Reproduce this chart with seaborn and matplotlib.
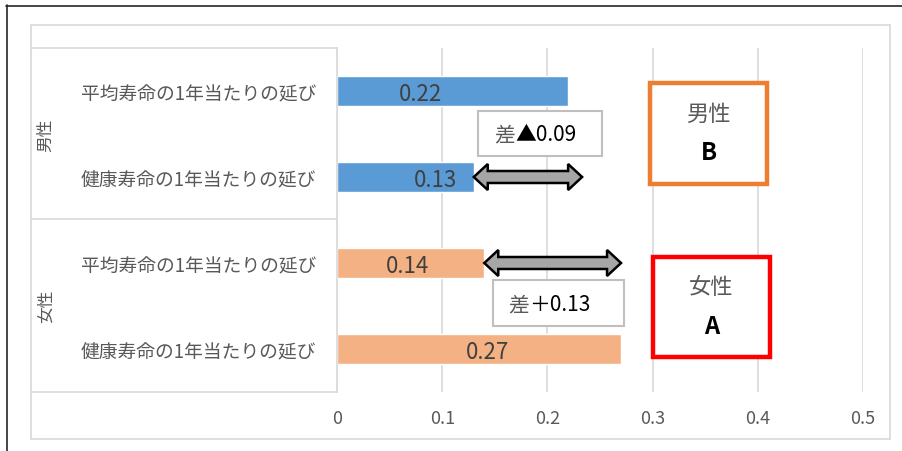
import matplotlib
matplotlib.use("Agg")
import matplotlib.pyplot as plt
import pandas as pd
import seaborn as sns
from matplotlib.patches import Rectangle, Polygon
from matplotlib.lines import Line2D
from matplotlib.transforms import Affine2D

# ---- data ----
sexes = ["男性", "男性", "女性", "女性"]
items = ["平均寿命の1年当たりの延び", "健康寿命の1年当たりの延び",
         "平均寿命の1年当たりの延び", "健康寿命の1年当たりの延び"]
values = [0.22, 0.13, 0.14, 0.27]
groups = ["男性", "女性"]
grades = ["B", "A"]
x_ticks = [0, 0.1, 0.2, 0.3, 0.4, 0.5]
x_tick_labels = ["0", "0.1", "0.2", "0.3", "0.4", "0.5"]

# ---- style ----
sns.set_style("white")
plt.rcParams["font.family"] = ["Noto Sans CJK JP", "DejaVu Sans"]
bar_colors = {"男性": "#5B9BD5", "女性": "#F4B183"}
label_gray = "#595959"
grid_gray = "#D9D9D9"

W, H = 902, 452
fig = plt.figure(figsize=(W / 100, H / 100), dpi=100)
fig.patch.set_facecolor("white")
# pixel coordinates measured from the top-left corner
PX = Affine2D().scale(1 / W, -1 / H).translate(0, 1) + fig.transFigure

ax_l, ax_r, ax_t, ax_b = 337, 863, 49, 393
ax = fig.add_axes([ax_l / W, 1 - ax_b / H, (ax_r - ax_l) / W, (ax_b - ax_t) / H])

df = pd.DataFrame({
    "key": [f"{s}|{i}" for s, i in zip(sexes, items)],
    "value": values,
    "sex": sexes,
})
sns.barplot(data=df, x="value", y="key", hue="sex", palette=bar_colors,
            dodge=False, width=0.36, saturation=1, legend=False, ax=ax, zorder=2)

ax.set_xlim(0, 0.5)
ax.set_ylim(3.5, -0.5)
ax.set_xticks(x_ticks)
ax.set_xticklabels(x_tick_labels, fontsize=13, color=label_gray)
ax.set_yticks(range(len(items)))
ax.set_yticklabels(items, fontsize=13.5, color=label_gray)
ax.tick_params(axis="x", length=0, pad=12)
ax.tick_params(axis="y", length=0, pad=15)
ax.set_xlabel("")
ax.set_ylabel("")
ax.grid(axis="x", color=grid_gray, lw=1.2)
ax.grid(axis="y", visible=False)
ax.set_axisbelow(True)
for side in ["top", "right", "bottom"]:
    ax.spines[side].set_visible(False)
ax.spines["left"].set_color(grid_gray)
ax.spines["left"].set_linewidth(1.2)

# value labels inside the bars
label_x = [0.079, 0.094, 0.0675, 0.1426]
for i, (v, lx) in enumerate(zip(values, label_x)):
    ax.text(lx, i, f"{v:.2f}", ha="center", va="center_baseline", fontsize=16,
            color="#404040", zorder=4)

# double-headed arrows between the paired bars
sx = (ax_r - ax_l) / 0.5
sy = (ax_b - ax_t) / 4.0


def double_arrow(x0, x1, y):
    hl, hh, sh = 14 / sx, 13 / sy, 6 / sy
    pts = [(x0, y), (x0 + hl, y - hh), (x0 + hl, y - sh), (x1 - hl, y - sh),
           (x1 - hl, y - hh), (x1, y), (x1 - hl, y + hh), (x1 - hl, y + sh),
           (x0 + hl, y + sh), (x0 + hl, y + hh)]
    ax.add_patch(Polygon(pts, closed=True, facecolor="#A6A6A6",
                         edgecolor="black", lw=1.8, joinstyle="miter",
                         zorder=5, clip_on=False))


arrow_overshoot = [0.013, 0.0]
arrow_rows = [1, 2]
pairs = [(0, 1), (2, 3)]
for (a, b), row, ov in zip(pairs, arrow_rows, arrow_overshoot):
    lo, hi = sorted([values[a], values[b]])
    double_arrow(lo, hi + ov, row)

# difference boxes
diff_boxes = [(478, 112, 124, 45), (493, 281, 131, 46)]
diff_text_x = [494, 508]
for (a, b), (bx, by, bw, bh), tx in zip(pairs, diff_boxes, diff_text_x):
    d = values[b] - values[a]
    sign = "▲" if d < 0 else "＋"
    ax.add_patch(Rectangle((bx, by), bw, bh, transform=PX, facecolor="white",
                           edgecolor="#BFBFBF", lw=1.5, clip_on=False, zorder=6))
    t1 = ax.text(tx, by + bh / 2 + 1, "差", transform=PX, ha="left", va="center",
                 fontsize=15, color=label_gray, zorder=7, clip_on=False)
    ax.annotate(f"{sign}{abs(d):.2f}", xy=(1, 0), xycoords=t1, ha="left",
                va="bottom", fontsize=15, color="black", zorder=7,
                annotation_clip=False)

# grade boxes
grade_boxes = [(650, 84, 117, 101, "#ED7D31"), (653, 258, 117, 100, "#FF0000")]
for g, grade, (bx, by, bw, bh, col) in zip(groups, grades, grade_boxes):
    ax.add_patch(Rectangle((bx, by), bw, bh, transform=PX, facecolor="white",
                           edgecolor=col, lw=3.2, clip_on=False, zorder=6))
    ax.text(bx + bw / 2, by + 30, g, transform=PX, ha="center", va="center",
            fontsize=16, color=label_gray, zorder=7, clip_on=False)
    ax.text(bx + bw / 2, by + 69, grade, transform=PX, ha="center", va="center",
            fontsize=17, fontweight="bold", color="black", zorder=7, clip_on=False)

# category table frame and group labels
frame = [((31, 890), (26, 26)), ((31, 890), (440, 440)),
         ((31, 31), (26, 440)), ((890, 890), (26, 440)),
         ((31, 337), (49, 49)), ((31, 337), (220, 220)), ((31, 337), (393, 393))]
for xs, ys in frame:
    fig.add_artist(Line2D(xs, ys, transform=PX, color=grid_gray, lw=1.2))
for g, yc in zip(groups, [135, 306]):
    fig.text(46 / W, 1 - yc / H, g, rotation=90, ha="center", va="center",
             fontsize=12, color=label_gray)

# outer frame lines
fig.add_artist(Line2D((6, 902), (6.5, 6.5), transform=PX, color="#262626", lw=1.2))
fig.add_artist(Line2D((6.5, 6.5), (6, 452), transform=PX, color="#262626", lw=1.2))

fig.savefig("out.png", dpi=100, facecolor="white")
